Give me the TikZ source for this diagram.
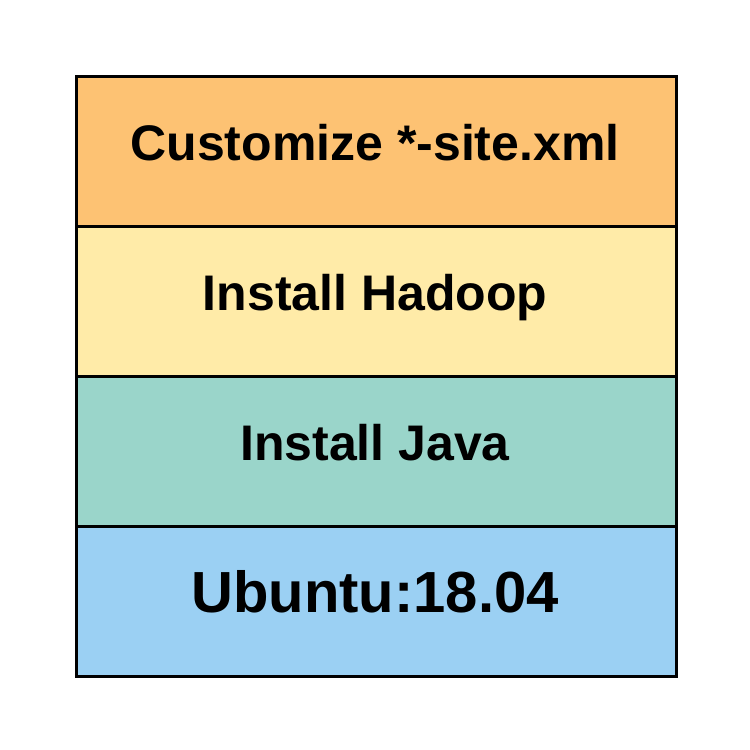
\documentclass[tikz,border=0pt]{standalone}
\usepackage{fontspec}
\setmainfont{Liberation Sans}
\definecolor{corange}{HTML}{FDC273}
\definecolor{cyellow}{HTML}{FFEBA8}
\definecolor{cteal}{HTML}{9AD5CA}
\definecolor{cblue}{HTML}{9BD0F3}
\tikzset{
  layerbox/.style={draw=black, line width=3pt, minimum width=600pt, minimum height=150pt, inner sep=0pt, anchor=north west},
  layertext/.style={anchor=base, inner sep=0pt, font=\bfseries\fontsize{50pt}{60pt}\selectfont},
}
\begin{document}
\begin{tikzpicture}[x=1pt,y=-1pt]
\useasboundingbox (0,0) rectangle (750,750);
\node[layerbox, fill=corange] (l1) at (75,75) {};
\node[layerbox, fill=cyellow] (l2) at (75,225) {};
\node[layerbox, fill=cteal] (l3) at (75,375) {};
\node[layerbox, fill=cblue] (l4) at (75,525) {};
\node[layertext] (t1) at (375,160) {Customize *-site.xml};
\node[layertext] (t2) at (375,310.5) {Install Hadoop};
\node[layertext] (t3) at (375,460) {Install Java};
\node[layertext, font=\bfseries\fontsize{58pt}{68pt}\selectfont] (t4) at (375,612) {Ubuntu:18.04};
\end{tikzpicture}
\end{document}
